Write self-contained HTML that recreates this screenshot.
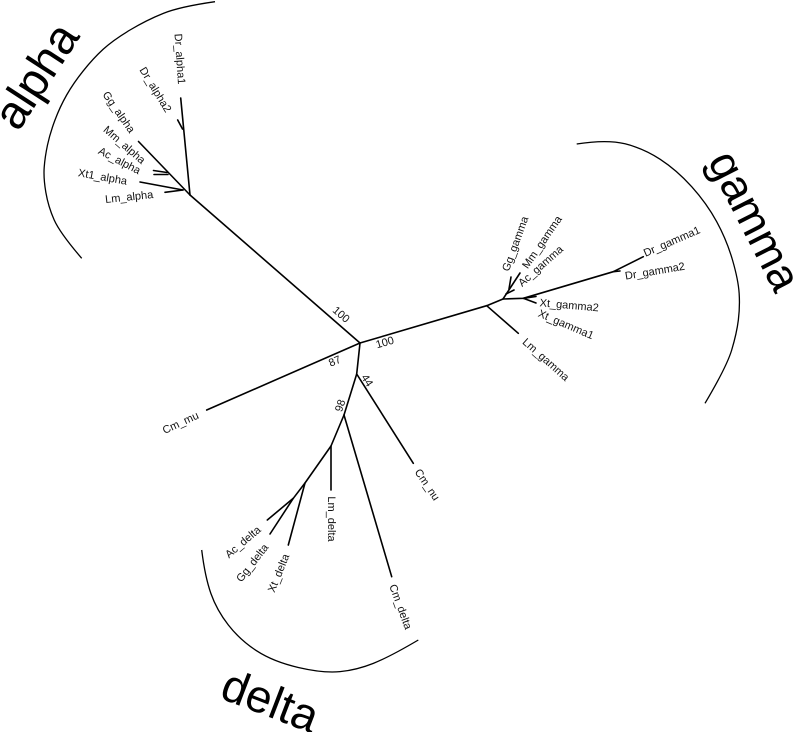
<!DOCTYPE html>
<html>
<head>
<meta charset="utf-8">
<style>
  html, body { margin: 0; padding: 0; background: #fff; }
  svg { display: block; }
  .lab { font-family: "Liberation Sans", Arial, sans-serif; font-size: 11px; fill: #111; }
  .big { font-family: "Liberation Sans", Arial, sans-serif; fill: #000; }
</style>
</head>
<body>
<svg width="796" height="732" viewBox="0 0 796 732" xmlns="http://www.w3.org/2000/svg">
  <rect width="796" height="732" fill="#fff"/>

  <!-- clade arcs -->
  <g stroke="#000" stroke-width="1.3" fill="none">
    <path d="M215,1.7 Q180,6.7 163.35,13.35 Q146.7,20 130,30 Q113.3,40 103.3,49.15 Q93.3,58.3 83.3,70.8 Q73.3,83.3 66.65,95 Q60,106.7 55,120 Q50,133.3 47.5,145 Q45,156.7 44.2,167.35 Q43.4,178 45.85,192.35 Q48.3,206.7 54.15,219.85 Q60,233 81.7,258.3"/>
    <path d="M576.7,144 Q606.7,139.3 625,143.8 Q643.3,148.3 660,159.15 Q676.7,170 691.7,186.65 Q706.7,203.3 716.7,221.65 Q726.7,240 732.5,260 Q738.3,280 739.15,293.35 Q740,306.7 738.35,320 Q736.7,333.3 731.7,350 Q726.7,366.7 705,403.3"/>
    <path d="M201.7,550 Q205,576.7 210.85,593.35 Q216.7,610 228.35,625 Q240,640 256.65,650.85 Q273.3,661.7 298.3,667.5 Q323.3,673.3 340,671.65 Q356.7,670 373.35,663.35 Q390,656.7 418.3,640"/>
  </g>

  <!-- tree branches -->
  <g stroke="#000" stroke-width="1.6" fill="none" stroke-linecap="round" stroke-linejoin="round">
    <!-- alpha -->
    <line x1="360" y1="343" x2="190" y2="195"/>
    <line x1="190" y1="195" x2="180.7" y2="98"/>
    <line x1="182.5" y1="129" x2="177.7" y2="120"/>
    <line x1="190" y1="195" x2="138.5" y2="141.5"/>
    <line x1="167" y1="172.5" x2="153.5" y2="170.5"/>
    <line x1="168" y1="174.5" x2="154" y2="174.5"/>
    <line x1="183" y1="190" x2="140" y2="182"/>
    <line x1="183" y1="190" x2="165" y2="192.3"/>
    <!-- Cm_mu -->
    <line x1="360" y1="343" x2="206.7" y2="410"/>
    <!-- gamma -->
    <line x1="360" y1="343" x2="486.7" y2="305.7"/>
    <line x1="486.7" y1="305.7" x2="518.3" y2="333.3"/>
    <line x1="486.7" y1="305.7" x2="503" y2="299"/>
    <polyline points="503,299 523.3,298.3 613.3,271.7 643.3,256.7"/>
    <line x1="613.3" y1="271.7" x2="620" y2="271"/>
    <line x1="523.3" y1="298.3" x2="536" y2="296.5"/>
    <line x1="523.3" y1="298.3" x2="536" y2="303"/>
    <line x1="503" y1="299" x2="520" y2="273"/>
    <line x1="509" y1="289" x2="511" y2="277"/>
    <line x1="506" y1="294" x2="514" y2="290"/>
    <!-- nu / delta -->
    <polyline points="360,343 356.7,374 344,415"/>
    <line x1="356.7" y1="374" x2="413.3" y2="463.3"/>
    <line x1="344" y1="415" x2="391.7" y2="576.7"/>
    <polyline points="344,415 331,446 331,490"/>
    <polyline points="331,446 305,483 288.3,545"/>
    <polyline points="305,483 293.3,498.3 267.3,520"/>
    <line x1="293.3" y1="498.3" x2="270" y2="534"/>
  </g>

  <!-- leaf labels -->
  <g class="lab" text-anchor="middle" dominant-baseline="central">
    <text transform="translate(179.3,59) rotate(86)">Dr_alpha1</text>
    <text transform="translate(155,90) rotate(58.5)">Dr_alpha2</text>
    <text transform="translate(118.3,112.5) rotate(55)">Gg_alpha</text>
    <text transform="translate(124,145.3) rotate(41)">Mm_alpha</text>
    <text transform="translate(119.2,161.2) rotate(27.5)">Ac_alpha</text>
    <text transform="translate(102.5,177.5) rotate(10)">Xt1_alpha</text>
    <text transform="translate(129.2,197.5) rotate(-6)">Lm_alpha</text>

    <text transform="translate(180.8,423.3) rotate(-25)">Cm_mu</text>
    <text transform="translate(426.7,485) rotate(56)">Cm_nu</text>

    <text transform="translate(331,519) rotate(90)">Lm_delta</text>
    <text transform="translate(400,607) rotate(70)">Cm_delta</text>
    <text transform="translate(279.2,573.3) rotate(-68)">Xt_delta</text>
    <text transform="translate(252.8,563.3) rotate(-52)">Gg_delta</text>
    <text transform="translate(243.3,542.5) rotate(-40.5)">Ac_delta</text>

    <text transform="translate(545.5,360) rotate(41.6)">Lm_gamma</text>
    <text transform="translate(565.8,325) rotate(23)">Xt_gamma1</text>
    <text transform="translate(569.2,305.8) rotate(5)">Xt_gamma2</text>
    <text transform="translate(655,271.7) rotate(-9.5)">Dr_gamma2</text>
    <text transform="translate(672,242) rotate(-23.6)">Dr_gamma1</text>
    <text transform="translate(515.8,244) rotate(-70)">Gg_gamma</text>
    <text transform="translate(542.5,242.5) rotate(-55.5)">Mm_gamma</text>
    <text transform="translate(541,266.5) rotate(-41.4)">Ac_gamma</text>

    <!-- bootstrap values -->
    <text transform="translate(340.8,315) rotate(41)">100</text>
    <text transform="translate(385,343) rotate(-16)">100</text>
    <text transform="translate(335,361.7) rotate(-24)">87</text>
    <text transform="translate(366.7,380.8) rotate(57)">44</text>
    <text transform="translate(340.8,405.8) rotate(-72)">98</text>
  </g>

  <!-- clade names -->
  <text class="big" font-size="47" transform="translate(18.1,132.6) rotate(-57)">alpha</text>
  <text class="big" font-size="45" transform="translate(707.2,160.9) rotate(63)">gamma</text>
  <text class="big" font-size="46" transform="translate(218.2,697.5) rotate(21)">delta</text>
</svg>
</body>
</html>
